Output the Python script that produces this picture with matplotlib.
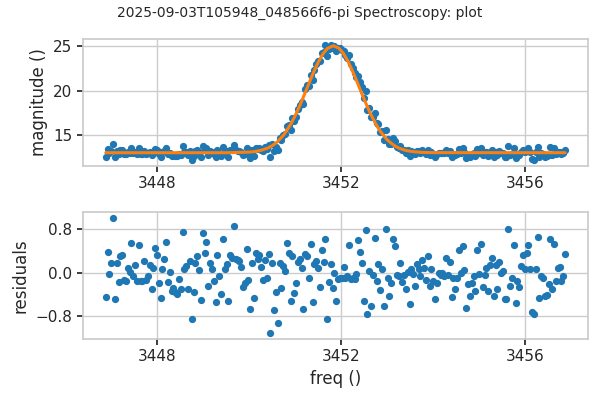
import matplotlib
matplotlib.use("Agg")
import matplotlib.pyplot as plt
import numpy as np
import seaborn as sns

TITLE = "2025-09-03T105948_048566f6-pi Spectroscopy: plot"

# frequency sweep (start, stop); one point per measured value
FREQ_START = 3446.875
FREQ_STOP = 3456.875

magnitude = [
    12.52, 13.35, 12.95, 13.14, 13.98, 12.48, 13.15, 12.80, 13.27, 13.30,
    12.84, 12.82, 13.06, 12.98, 13.52, 12.90, 13.10, 12.81, 13.47, 12.82,
    12.81, 13.18, 12.84, 12.90, 13.10, 12.67, 13.06, 13.43, 13.30, 12.77,
    12.50, 13.03, 13.22, 13.54, 12.80, 12.98, 12.62, 12.69, 12.61, 12.58,
    12.85, 12.66, 13.72, 13.03, 13.09, 12.67, 13.18, 12.12, 12.61, 13.15,
    13.28, 13.01, 12.46, 13.70, 13.33, 13.54, 12.73, 13.15, 13.03, 12.81,
    12.43, 13.30, 12.90, 12.57, 13.59,
    13.04, 13.12, 12.45, 13.30, 13.24, 13.83, 13.23, 13.22, 13.19, 13.08,
    12.71, 12.79, 13.45, 12.89,
    12.37, 13.24, 12.62, 13.47, 13.39, 13.51, 13.33, 13.15, 13.58, 13.34,
    13.89, 12.52, 13.91, 13.18, 13.66, 13.26, 14.60, 14.40, 14.98, 15.07,
    15.96, 16.09, 15.56, 16.85, 16.57, 16.96, 17.90, 18.42, 18.76, 18.49,
    20.14, 20.61, 20.47, 21.74, 21.16, 22.35, 22.99, 23.29, 23.34, 24.20,
    24.40, 25.10, 23.86, 24.75, 25.18, 24.79, 25.06, 24.48, 24.83,
    24.77, 24.56, 24.52, 24.02, 23.65, 24.03, 22.98, 22.57, 21.96, 21.58,
    21.68, 20.95, 20.37, 19.13, 19.94, 17.76, 18.02, 16.99, 17.05, 17.49,
    16.31, 16.23, 15.35, 15.39, 14.43, 15.54, 14.51, 13.96, 13.99, 14.61,
    14.32, 13.67, 13.49, 13.68, 13.26, 13.31, 12.96, 13.23, 12.59, 13.19,
    13.09, 12.83, 13.21, 13.11, 12.98, 13.27, 13.10, 12.88, 13.30, 12.74,
    13.05, 12.83, 12.49, 12.78, 12.97, 12.94, 12.97, 12.91, 13.25, 12.94,
    13.17, 12.53, 12.88, 12.68,
    12.87, 13.38, 12.96, 13.45, 13.01, 12.32, 12.75, 12.54, 12.77, 12.90,
    12.62, 13.38, 12.95, 13.50, 12.70, 12.93, 13.06, 12.62, 13.10, 13.24,
    12.54, 13.10, 12.66, 13.16, 12.96, 12.99, 12.48, 12.48, 13.78, 12.73,
    12.87, 13.47, 12.41, 12.82, 12.70, 13.09, 13.30, 13.03, 13.33, 13.47,
    13.03, 12.24, 12.20, 13.04, 13.63, 12.50, 12.91, 12.87, 12.54, 12.56,
    12.75, 13.59, 12.66, 13.49, 12.81, 13.06, 13.07, 12.81, 12.90, 13.32,
]

# fit residuals
residuals = [
    -0.45, 0.38, -0.02, 0.17, 1.01, -0.49, 0.18, -0.17, 0.30, 0.33,
    -0.13, -0.15, 0.09, 0.01, 0.55, -0.07, 0.13, -0.16, 0.50, -0.15,
    -0.16, 0.21, -0.13, -0.07, 0.13, -0.30, 0.09, 0.46, 0.33, -0.20,
    -0.47, 0.06, 0.25, 0.57, -0.17, 0.01, -0.35, -0.28, -0.36, -0.39,
    -0.12, -0.31, 0.75, 0.06, 0.12, -0.30, 0.21, -0.85, -0.36, 0.18,
    0.31, 0.04, -0.51, 0.73, 0.36, 0.57, -0.24, 0.18, 0.06, -0.16,
    -0.54, 0.33, -0.07, -0.40, 0.62,
    0.07, 0.15, -0.52, 0.33, 0.27, 0.86, 0.25, 0.24, 0.21, 0.10,
    -0.27, -0.19, 0.43, -0.13,
    -0.67, 0.18, -0.47, 0.36, 0.25, 0.33, 0.10, -0.13, 0.23, -0.10,
    0.35, -1.12, 0.18, -0.69, -0.36, -0.93, 0.17, -0.28, 0.12, 0.02,
    0.55, 0.36, -0.52, 0.31, -0.38, -0.20, 0.19, 0.25, 0.09, -0.67,
    0.35, 0.30, -0.10, 0.53, -0.54, 0.15, 0.22, 0.09, -0.27, 0.41,
    0.20, 0.62, -0.85, -0.17, 0.16, -0.28, -0.01, -0.52, -0.12,
    -0.11, -0.10, 0.10, -0.10, -0.07, 0.50, -0.12, -0.10, -0.12, -0.02,
    0.60, 0.38, 0.18, -0.52, 0.78, -0.77, 0.02, -0.61, -0.04, 0.64,
    -0.16, 0.15, -0.33, 0.06, -0.62, 0.81, -0.10, -0.43, -0.20, 0.61,
    0.48, -0.04, -0.07, 0.17, -0.17, -0.04, -0.31, 0.01, -0.58, 0.06,
    -0.02, -0.25, 0.15, 0.06, -0.06, 0.24, 0.09, -0.13, 0.30, -0.24,
    0.07, -0.15, -0.49, -0.20, -0.01, -0.04, -0.01, -0.07, 0.27, -0.04,
    0.19, -0.45, -0.10, -0.30,
    -0.10, 0.41, -0.01, 0.48, 0.04, -0.65, -0.22, -0.43, -0.20, -0.07,
    -0.35, 0.41, -0.02, 0.53, -0.27, -0.04, 0.09, -0.35, 0.13, 0.27,
    -0.43, 0.13, -0.31, 0.19, -0.01, 0.02, -0.49, -0.49, 0.81, -0.24,
    -0.10, 0.50, -0.56, -0.15, -0.27, 0.12, 0.33, 0.06, 0.36, 0.50,
    0.06, -0.73, -0.77, 0.07, 0.66, -0.47, -0.06, -0.10, -0.43, -0.41,
    -0.22, 0.62, -0.31, 0.52, -0.16, 0.09, 0.10, -0.16, -0.07, 0.35,
]

# fitted curve
fit_freq = [
    3446.875, 3449.5, 3450.0, 3450.1, 3450.25, 3450.4, 3450.5, 3450.6,
    3450.75, 3450.9, 3451.0, 3451.1, 3451.2, 3451.3, 3451.4, 3451.5,
    3451.6, 3451.7, 3451.83, 3451.95, 3452.05, 3452.15, 3452.25, 3452.35,
    3452.45, 3452.55, 3452.65, 3452.75, 3452.85, 3453.0, 3453.1, 3453.2,
    3453.3, 3453.4, 3453.5, 3453.6, 3453.8, 3454.0, 3456.875,
]
fit_mag = [
    12.97, 12.97, 13.04, 13.09, 13.23, 13.49, 13.76, 14.15,
    14.98, 16.16, 17.16, 18.30, 19.54, 20.82, 22.08, 23.20,
    24.13, 24.76, 25.07, 24.80, 24.20, 23.30, 22.19, 20.95,
    19.65, 18.42, 17.27, 16.26, 15.41, 14.44, 14.00, 13.64,
    13.41, 13.24, 13.14, 13.07, 13.00, 12.98, 12.97,
]

freq = np.linspace(FREQ_START, FREQ_STOP, len(residuals))

sns.set_theme(style="whitegrid", rc={"xtick.bottom": True, "ytick.left": True})

POINT_COLOR = "#1f77b4"
FIT_COLOR = "#ff7f0e"

fig, (ax_top, ax_bot) = plt.subplots(2, 1, figsize=(6, 4), dpi=100)
fig.subplots_adjust(left=0.138, right=0.98, top=0.9025, bottom=0.1525, hspace=0.362)
fig.suptitle(TITLE, fontsize=10, y=0.985)

ax_top.plot(freq, magnitude, "o", color=POINT_COLOR, markersize=4.2)
ax_top.plot(fit_freq, fit_mag, "-", color=FIT_COLOR, linewidth=2.2)
ax_top.set_ylabel("magnitude ()")
ax_top.set_yticks([15, 20, 25])

ax_bot.plot(freq, residuals, "o", color=POINT_COLOR, markersize=4.2)
ax_bot.set_ylabel("residuals")
ax_bot.set_xlabel("freq ()")
ax_bot.set_yticks([-0.8, 0.0, 0.8])

for ax in (ax_top, ax_bot):
    ax.set_xticks([3448, 3452, 3456])
    ax.tick_params(length=4)

fig.savefig("out.png")
